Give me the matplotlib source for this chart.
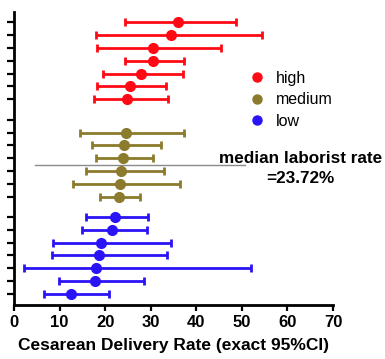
import matplotlib
matplotlib.use("Agg")
import matplotlib.pyplot as plt
from matplotlib.lines import Line2D

plt.rcParams['font.family'] = ['Liberation Sans', 'DejaVu Sans']

# rates and exact 95% CI, top to bottom within each group
high_rate = [36.0, 34.4, 30.5, 30.5, 27.8, 25.4, 24.9]
high_lo = [24.3, 18.0, 18.2, 24.3, 19.6, 18.3, 17.5]
high_hi = [48.8, 54.4, 45.4, 37.2, 37.1, 33.3, 33.8]

medium_rate = [24.6, 24.1, 23.9, 23.5, 23.2, 23.1]
medium_lo = [14.5, 17.1, 18.1, 15.8, 12.9, 18.9]
medium_hi = [37.3, 32.2, 30.4, 33.0, 36.4, 27.6]

low_rate = [22.1, 21.5, 19.0, 18.6, 18.1, 17.8, 12.4]
low_lo = [15.8, 14.9, 8.6, 8.3, 2.2, 9.9, 6.6]
low_hi = [29.5, 29.2, 34.4, 33.5, 51.9, 28.5, 20.9]

group_names = ['high', 'medium', 'low']
median_rate = 23.72

colors = {'high': '#ff0a14', 'medium': '#8c7b2c', 'low': '#2a14f5'}

fig = plt.figure(figsize=(3.85, 3.59), dpi=100)
ax = fig.add_axes([14 / 385, 1 - 305 / 359, (333 - 14) / 385, (305 - 12) / 359])

# row layout: 7 slots per group, gap of 1.6 rows between groups,
# the first medium slot is empty
gap = 1.6
high_y = [i for i in range(7)]
medium_slots = [6 + gap + j for j in range(7)]
medium_y = medium_slots[1:]
low_y = [medium_slots[-1] + gap + k for k in range(7)]

groups = [
    ('high', high_y, high_rate, high_lo, high_hi),
    ('medium', medium_y, medium_rate, medium_lo, medium_hi),
    ('low', low_y, low_rate, low_lo, low_hi),
]
for name, ys, rate, lo, hi in groups:
    err = [[r - l for r, l in zip(rate, lo)], [h - r for r, h in zip(rate, hi)]]
    ax.errorbar(rate, ys, xerr=err, fmt='o', color=colors[name], ms=7,
                elinewidth=2, capsize=3.2, capthick=2)

# median line between 3rd and 4th medium rows
median_y = (medium_y[2] + medium_y[3]) / 2
ax.plot([4.6, 50.6], [median_y, median_y], color='#8a8a8a', lw=1, clip_on=False)
ax.text(62.9, median_y - 0.5, 'median laborist rate', fontsize=12.3, fontweight='bold',
        ha='center', va='center', clip_on=False)
ax.text(62.9, median_y + 1.05, '=%.2f%%' % median_rate, fontsize=12.3, fontweight='bold',
        ha='center', va='center', clip_on=False)

handles = [Line2D([], [], ls='', marker='o', ms=6.5, color=colors[n]) for n in group_names]
fig.legend(handles, group_names, loc='upper left', bbox_to_anchor=(239 / 385, 1 - 63 / 359),
           frameon=False, fontsize=11.5, handletextpad=0.6, labelspacing=0.4,
           handlelength=1.2, borderpad=0)

ax.set_xlim(0, 70)
ax.set_xticks(range(0, 71, 10))
ax.set_ylim(22.07, -0.82)
ax.set_yticks(high_y + medium_slots + low_y)
ax.set_yticklabels([])

for s in ['top', 'right']:
    ax.spines[s].set_visible(False)
for s in ['left', 'bottom']:
    ax.spines[s].set_linewidth(2)
ax.tick_params(axis='y', length=5, width=1.6)
ax.tick_params(axis='x', length=4, width=1.6, labelsize=12, pad=3)
for lbl in ax.get_xticklabels():
    lbl.set_fontweight('bold')
ax.set_xlabel('Cesarean Delivery Rate (exact 95%CI)', fontsize=12.5, fontweight='bold',
              labelpad=6)

fig.savefig('out.png', dpi=100)
